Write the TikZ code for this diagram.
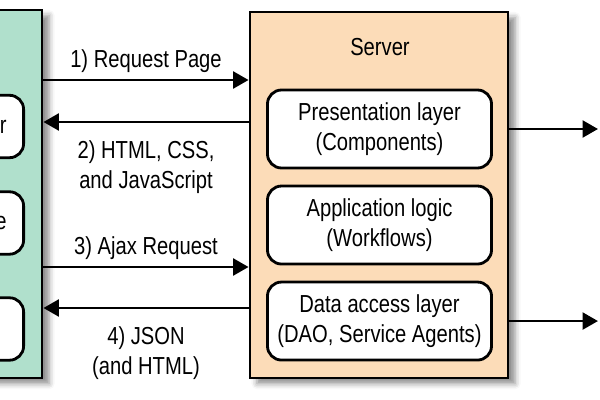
\documentclass[tikz,border=0pt]{standalone}
\usepackage{fontspec}
\setmainfont{Liberation Sans}[FakeStretch=0.82]
\usepackage{xcolor}
\usetikzlibrary{arrows.meta,positioning,shadows.blur}
\definecolor{clientgreen}{RGB}{176,224,204}
\definecolor{serverpeach}{RGB}{252,220,184}

\begin{document}
\begin{tikzpicture}[x=0.025cm,y=-0.025cm,
    line width=2pt,>={Triangle[length=11pt,width=12pt]},
    every node/.style={font=\fontsize{17.5}{21}\selectfont},
    node distance=2.4cm,on grid,
    tier/.style={rectangle,draw,line width=2pt,
      blur shadow={shadow xshift=5pt,shadow yshift=-4pt,shadow blur radius=4pt,shadow opacity=45}},
    layer/.style={rectangle,draw,line width=2pt,rounded corners=10pt,fill=white,
      minimum width=5.6cm,minimum height=1.95cm,align=center},
    cside/.style={layer,anchor=east,minimum width=0pt,minimum height=1.56cm,
      text width=3.5cm,align=right,inner xsep=12pt}]
  \clip (0,0) rectangle (600,400);

  % client, cut off at the left edge
  \node[tier,fill=clientgreen,minimum width=6.05cm,minimum height=9.2cm] (client) at (-79,194) {};
  \node[cside] (cbox1) at (25,126.5) {r};
  \node[cside] (cbox2) at (25,223) {e};
  \node[cside] (cbox3) at (25,329) {};

  % server
  \node[tier,fill=serverpeach,minimum width=6.45cm,minimum height=9.15cm] (server) at (379,195) {};
  \node (srvtitle) at (380,47) {Server};
  \node[layer] (pres) at (379.5,129) {Presentation layer\\(Components)};
  \node[layer,below=of pres] (app) {Application logic\\(Workflows)};
  \node[layer,below=of app] (dao) {Data access layer\\(DAO, Service Agents)};

  % request / response levels
  \coordinate (lvl1) at (0,80);
  \coordinate (lvl2) at (0,122);
  \coordinate (lvl3) at (0,267);
  \coordinate (lvl4) at (0,308);
  \coordinate (web) at (598,0);

  \draw[->] (client.east |- lvl1) -- (server.west |- lvl1)
    node[midway,above=1pt] (lbl1) {1) Request Page};
  \draw[->] (server.west |- lvl2) -- (client.east |- lvl2)
    node[midway,below=9pt,align=center] (lbl2) {2) HTML, CSS,\\and JavaScript};
  \draw[->] (client.east |- lvl3) -- (server.west |- lvl3)
    node[midway,above=1pt] (lbl3) {3) Ajax Request};
  \draw[->] (server.west |- lvl4) -- (client.east |- lvl4)
    node[midway,below=9pt,align=center] (lbl4) {4) JSON\\(and HTML)};

  \draw[->] (server.east |- pres) -- (web |- pres);
  \draw[->] (server.east |- dao) -- (web |- dao);
\end{tikzpicture}
\end{document}
